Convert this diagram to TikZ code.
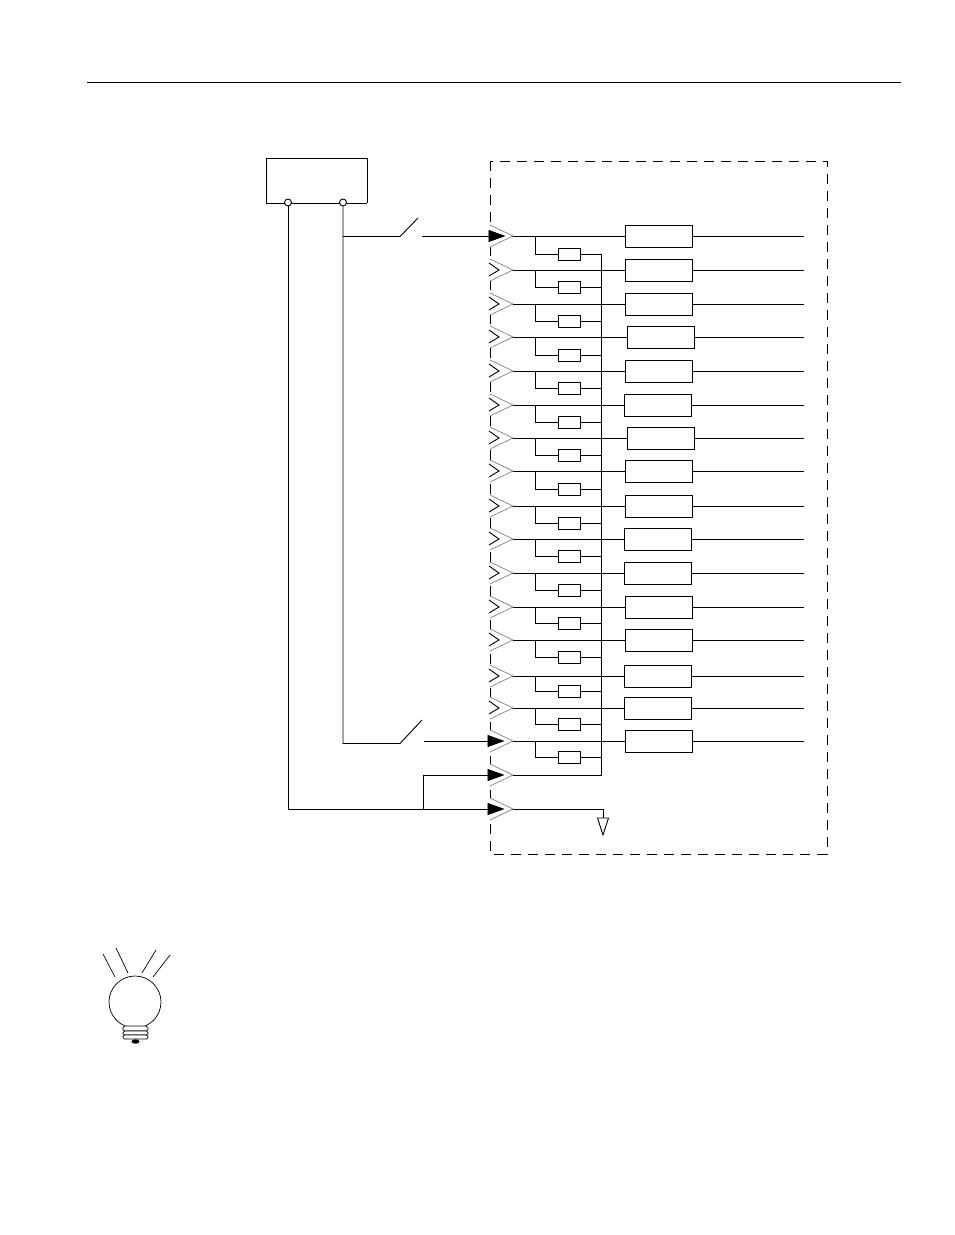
\documentclass[tikz,border=0pt]{standalone}
\usetikzlibrary{arrows.meta}
\tikzset{
    wire/.style = {line width = 0.9pt},
    thinwire/.style = {line width = 0.7pt},
    feed/.style = {wire, -{Triangle[length = 17pt, width = 12pt]}, shorten >= -0.5pt},
    loadbox/.style = {draw, wire, minimum width = 67pt, minimum height = 22.5pt, inner sep = 0pt},
    resbox/.style = {draw, wire, minimum width = 22pt, minimum height = 12pt, inner sep = 0pt},
    term/.style = {draw, wire, circle, fill = white, minimum size = 7pt, inner sep = 0pt},
    shell/.pic = {
        \fill [white] (-26, -11) -- (-23, -11) -- (0, 0) -- (-23, 11) -- (-26, 11) -- cycle;
        \draw [gray, line width = 0.7pt] (-23, -11) -- (0, 0) -- (-23, 11);
    },
    latch/.pic = {
        \draw [wire] (-24, -7) -- (-14, 0) -- (-24, 6);
    },
}
\begin{document}
\begin{tikzpicture}[x = 1pt, y = -1pt]
    \useasboundingbox (0, 0) rectangle (954, 1235);
    \fill [white] (0, 0) rectangle (954, 1235);

    \draw [wire] (87, 82.7) coordinate (ruleL) -- (901, 82.7) coordinate (ruleR);

    % module outline
    \draw [wire, dash pattern = on 10pt off 7pt] (490, 161) rectangle (827, 854);

    % rows with load and resistor
    \foreach \n/\ry/\bx/\sy in {
        1/236/658.5/254, 2/270/658.5/287, 3/304/658.5/321, 4/337/660.5/355,
        5/371/658.5/388, 6/405/657.5/422, 7/438/660.5/455, 8/471/658.5/489,
        9/506/658.5/523, 10/539/657.5/556, 11/573/658/590, 12/607/658.5/623,
        13/640/658.5/657, 14/676/657.5/691, 15/708/658/724, 16/741/658.5/757}
    {
        \coordinate (tip\n) at (513, \ry);
        \coordinate (end\n) at (804, \ry);
        \node [loadbox] (load\n) at (\bx, \ry + 0.5) {};
        \node [resbox] (res\n) at (569, \sy) {};
        \pic at (tip\n) {shell};
        \draw [wire] (tip\n) -- (load\n.west |- tip\n);
        \draw [wire] (load\n.east |- tip\n) -- (end\n);
        \draw [wire] (535, \ry) |- (res\n.west);
        \draw [wire] (res\n.east) -- (601, \sy);
    }
    \foreach \n in {2, 3, ..., 15}
    {
        \pic at (tip\n) {latch};
    }

    % supply box
    \draw [wire] (266, 203) coordinate (boxA) -- (266, 158) -- (367, 158) -- (367, 203) coordinate (boxB);
    \draw [wire] (boxA) -- (boxB);
    \node [term] (neg) at (288, 202.5) {};
    \node [term] (pos) at (343, 202.5) {};

    % lower rows
    \coordinate (tip17) at (513, 775);
    \coordinate (tip18) at (513, 809);
    \pic at (tip17) {shell};
    \pic at (tip18) {shell};
    \coordinate (bus) at (601, 254);
    \draw [wire] (tip17) -- (tip17 -| bus) -- (bus);

    % ground
    \coordinate (gnd) at (603, 818);
    \draw [wire] (tip18) -- (tip18 -| gnd) -- (gnd);
    \draw [wire, fill = white] (597.5, 818) -- (608.5, 818) -- (603, 835) -- cycle;

    % switches
    \coordinate (swA) at (400, 236.5);
    \coordinate (swB) at (400, 743.5);
    \coordinate (inA) at (422, 236);
    \coordinate (inB) at (424, 741);
    \draw [wire] (pos.south) -- (343, 743.5) -- (swB) -- (422, 720);
    \draw [wire] (343, 236.5) -- (swA) -- (418, 218);
    \draw [feed] (inA) -- (505, 236);
    \draw [feed] (inB) -- (504, 741);

    % return
    \coordinate (tap) at (423, 809);
    \draw [wire] (neg.south) -- (288, 809) -- (tap);
    \draw [feed] (tap) -- (504, 809);
    \draw [feed] (tap) -- (423, 775) -- (504, 775);

    % bulb
    \draw [thinwire] (135, 1002) circle (26);
    \draw [thinwire] (103, 954) -- (115, 977);
    \draw [thinwire] (116, 948) -- (128, 973);
    \draw [thinwire] (156, 950) -- (142, 973);
    \draw [thinwire] (170, 955) -- (153, 977);
    \foreach \st/\sb in {1026/1031, 1031/1035, 1035/1039}
    {
        \draw [thinwire, fill = white, rounded corners = 1.5pt] (123, \st) rectangle (148, \sb);
    }
    \fill (135.5, 1041.5) ellipse (4 and 2.2);
\end{tikzpicture}
\end{document}
